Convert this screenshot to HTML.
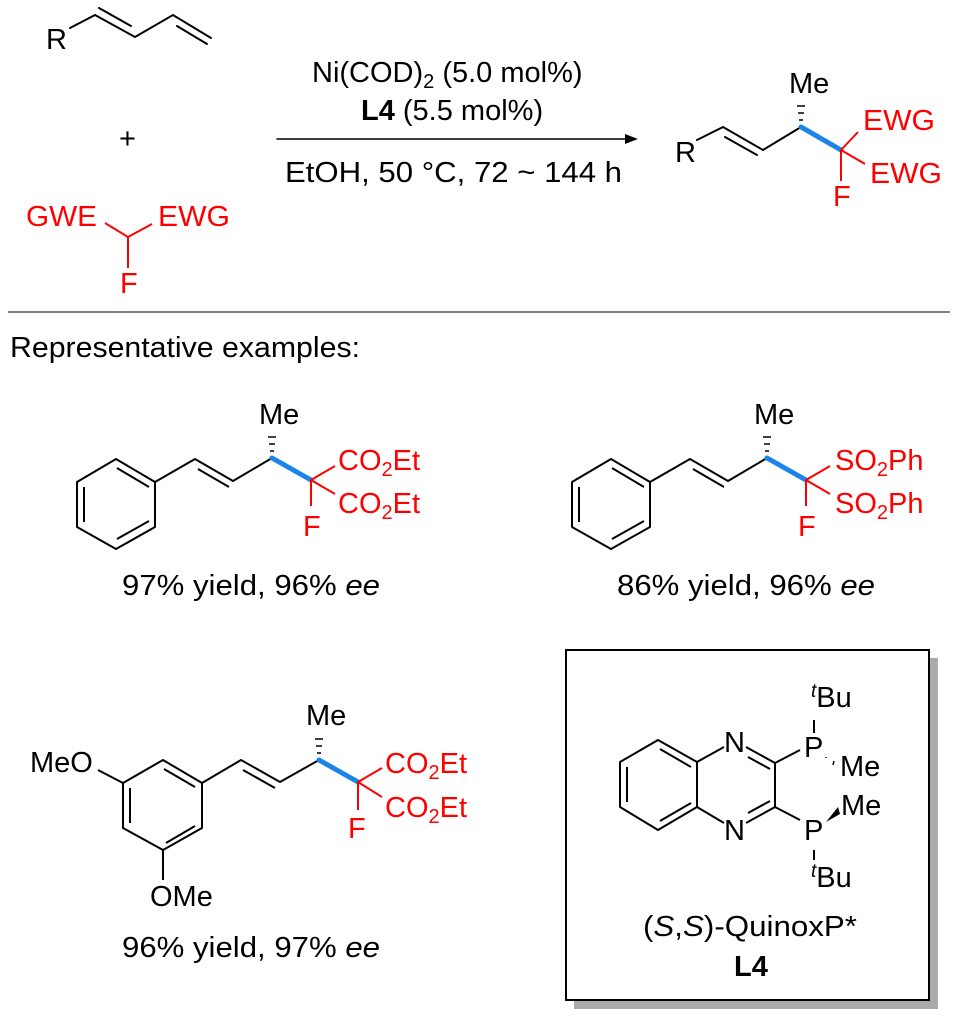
<!DOCTYPE html>
<html><head><meta charset="utf-8"><style>
html,body{margin:0;padding:0;background:#fff;}
svg{display:block;}
text{font-family:"Liberation Sans",Arial,sans-serif;font-size:29px;}
</style></head><body>
<svg width="959" height="1019" viewBox="0 0 959 1019" xmlns="http://www.w3.org/2000/svg">
<g stroke="#000" stroke-width="2" fill="none" stroke-linecap="round">
<polyline points="70,28 95,15 135,37 173,15 211,38"/>
<line x1="99" y1="8" x2="131" y2="26"/>
<line x1="177" y1="26" x2="207" y2="44"/>
<line x1="277" y1="139" x2="628" y2="139" stroke-width="1.5"/>
<polyline points="697,140 723,127 763,150 801,127"/>
<line x1="725" y1="137" x2="757" y2="155"/>
</g>
<polygon points="638,139 625,134 625,144" fill="#000"/>
<g stroke="#000" stroke-width="1.5">
<line x1="799" y1="120" x2="803" y2="120"/><line x1="798" y1="113" x2="804" y2="113"/><line x1="797" y1="106" x2="805" y2="106"/>
</g>
<line x1="801" y1="127" x2="841" y2="150" stroke="#1a84e8" stroke-width="5" stroke-linecap="round"/>
<g stroke="#f00" stroke-width="2"><line x1="841" y1="150" x2="858" y2="132"/><line x1="841" y1="150" x2="865" y2="164"/><line x1="841" y1="150" x2="841" y2="181"/></g>
<g stroke="#f00" stroke-width="2" fill="none"><polyline points="105,223 128,237 152,224"/><line x1="128" y1="237" x2="128" y2="268"/></g>
<text x="46" y="49">R</text>
<text x="119" y="148" font-size="26">+</text>
<g fill="#f00">
<text x="26" y="226" textLength="71" lengthAdjust="spacingAndGlyphs">GWE</text>
<text x="158" y="226" textLength="72" lengthAdjust="spacingAndGlyphs">EWG</text>
<text x="120" y="293">F</text>
<text x="863" y="130" textLength="72" lengthAdjust="spacingAndGlyphs">EWG</text>
<text x="870" y="183" textLength="72" lengthAdjust="spacingAndGlyphs">EWG</text>
<text x="833" y="206">F</text>
</g>
<text x="312" y="82">Ni(COD)<tspan font-size="20" dy="6">2</tspan><tspan dy="-6"> (5.0 mol%)</tspan></text>
<text x="361" y="120"><tspan font-weight="bold">L4</tspan> (5.5 mol%)</text>
<text x="285" y="182" textLength="337" lengthAdjust="spacingAndGlyphs">EtOH, 50 °C, 72 ~ 144 h</text>
<text x="675" y="162">R</text>
<text x="789" y="93">Me</text>
<line x1="8" y1="312" x2="950" y2="312" stroke="#808080" stroke-width="2"/>
<text x="10" y="357" textLength="350" lengthAdjust="spacingAndGlyphs">Representative examples:</text>

<g id="ex">
<g stroke="#000" stroke-width="2" fill="none" stroke-linejoin="round">
<polygon points="116,459 155,482 155,527 116,549 77,527 77,482"/>
<line x1="117" y1="468" x2="149" y2="487"/>
<line x1="84" y1="487" x2="84" y2="522"/>
<line x1="117" y1="539" x2="149" y2="521"/>
<polyline points="155,482 195,459 233,481 272,458"/>
<line x1="198" y1="469" x2="229" y2="487"/>
</g>
<g stroke="#000" stroke-width="1.5">
<line x1="270" y1="451" x2="274" y2="451"/><line x1="269" y1="444" x2="275" y2="444"/><line x1="268" y1="437" x2="276" y2="437"/>
</g>
<line x1="272" y1="458" x2="311" y2="480" stroke="#1a84e8" stroke-width="5" stroke-linecap="round"/>
<g stroke="#f00" stroke-width="2"><line x1="311" y1="480" x2="335" y2="466"/><line x1="311" y1="480" x2="335" y2="494"/><line x1="311" y1="480" x2="311" y2="506"/></g>
<text x="259" y="424">Me</text>
<text x="303" y="536" fill="#f00">F</text>
</g>
<g fill="#f00">
<text x="338" y="470">CO<tspan font-size="20" dy="6">2</tspan><tspan dy="-6">Et</tspan></text>
<text x="338" y="513">CO<tspan font-size="20" dy="6">2</tspan><tspan dy="-6">Et</tspan></text>
</g>
<text x="122" y="595" textLength="258" lengthAdjust="spacingAndGlyphs">97% yield, 96% <tspan font-style="italic">ee</tspan></text>

<use href="#ex" transform="translate(495,0)"/>
<g fill="#f00">
<text x="835" y="470">SO<tspan font-size="20" dy="6">2</tspan><tspan dy="-6">Ph</tspan></text>
<text x="835" y="513">SO<tspan font-size="20" dy="6">2</tspan><tspan dy="-6">Ph</tspan></text>
</g>
<text x="617" y="595" textLength="258" lengthAdjust="spacingAndGlyphs">86% yield, 96% <tspan font-style="italic">ee</tspan></text>

<g stroke="#000" stroke-width="2" fill="none" stroke-linejoin="round">
<polygon points="123,783 163,760 202,783 202,828 163,850 123,828"/>
<line x1="130" y1="788" x2="130" y2="823"/>
<line x1="164" y1="769" x2="195" y2="787"/>
<line x1="166" y1="843" x2="195" y2="826"/>
<line x1="98" y1="770" x2="123" y2="783"/>
<line x1="163" y1="850" x2="163" y2="880"/>
<polyline points="202,783 241,760 280,782 319,760"/>
<line x1="243" y1="770" x2="275" y2="788"/>
</g>
<g stroke="#000" stroke-width="1.5">
<line x1="317" y1="753" x2="321" y2="753"/><line x1="316" y1="746" x2="322" y2="746"/><line x1="315" y1="739" x2="323" y2="739"/>
</g>
<line x1="319" y1="760" x2="358" y2="782" stroke="#1a84e8" stroke-width="5" stroke-linecap="round"/>
<g stroke="#f00" stroke-width="2"><line x1="358" y1="782" x2="382" y2="768"/><line x1="358" y1="782" x2="382" y2="797"/><line x1="358" y1="782" x2="358" y2="810"/></g>
<text x="30" y="772">MeO</text>
<text x="150" y="906">OMe</text>
<text x="306" y="725">Me</text>
<g fill="#f00">
<text x="385" y="773">CO<tspan font-size="20" dy="6">2</tspan><tspan dy="-6">Et</tspan></text>
<text x="385" y="817">CO<tspan font-size="20" dy="6">2</tspan><tspan dy="-6">Et</tspan></text>
<text x="348" y="838">F</text>
</g>
<text x="122" y="957" textLength="258" lengthAdjust="spacingAndGlyphs">96% yield, 97% <tspan font-style="italic">ee</tspan></text>

<rect x="574" y="658" width="364" height="351" fill="#aaa"/>
<rect x="566" y="650" width="363" height="350" fill="#fff" stroke="#000" stroke-width="2"/>
<g stroke="#000" stroke-width="2" fill="none" stroke-linejoin="round">
<polygon points="658,740 697,762 697,807 658,830 620,807 620,762"/>
<line x1="627" y1="767" x2="627" y2="802"/>
<line x1="660" y1="749" x2="691" y2="767"/>
<line x1="660" y1="821" x2="691" y2="803"/>
<line x1="697" y1="762" x2="724" y2="747"/>
<line x1="697" y1="807" x2="724" y2="823"/>
<line x1="746" y1="747" x2="775" y2="763"/>
<line x1="748" y1="757" x2="770" y2="769"/>
<line x1="746" y1="823" x2="775" y2="807"/>
<line x1="748" y1="813" x2="770" y2="801"/>
<line x1="775" y1="763" x2="775" y2="807"/>
<line x1="775" y1="763" x2="800" y2="750"/>
<line x1="775" y1="807" x2="800" y2="820"/>
<line x1="814" y1="720" x2="814" y2="733"/>
<line x1="814" y1="850" x2="814" y2="860"/>
</g>
<g stroke="#000" stroke-width="1.5"><line x1="826" y1="757" x2="826" y2="758"/><line x1="834" y1="761" x2="833" y2="765"/></g>
<polygon points="826,822 838,807 840,814" fill="#000"/>
<text x="724" y="752">N</text>
<text x="724" y="840">N</text>
<text x="804" y="757">P</text>
<text x="804" y="840">P</text>
<text x="811" y="707"><tspan font-size="19" font-style="italic" dy="-10">t</tspan><tspan dy="10">Bu</tspan></text>
<text x="811" y="887"><tspan font-size="19" font-style="italic" dy="-10">t</tspan><tspan dy="10">Bu</tspan></text>
<text x="840" y="776">Me</text>
<text x="841" y="815">Me</text>
<text x="643" y="936" textLength="214" lengthAdjust="spacingAndGlyphs">(<tspan font-style="italic">S</tspan>,<tspan font-style="italic">S</tspan>)-QuinoxP*</text>
<text x="734" y="976" font-weight="bold">L4</text>
</svg>
</body></html>
